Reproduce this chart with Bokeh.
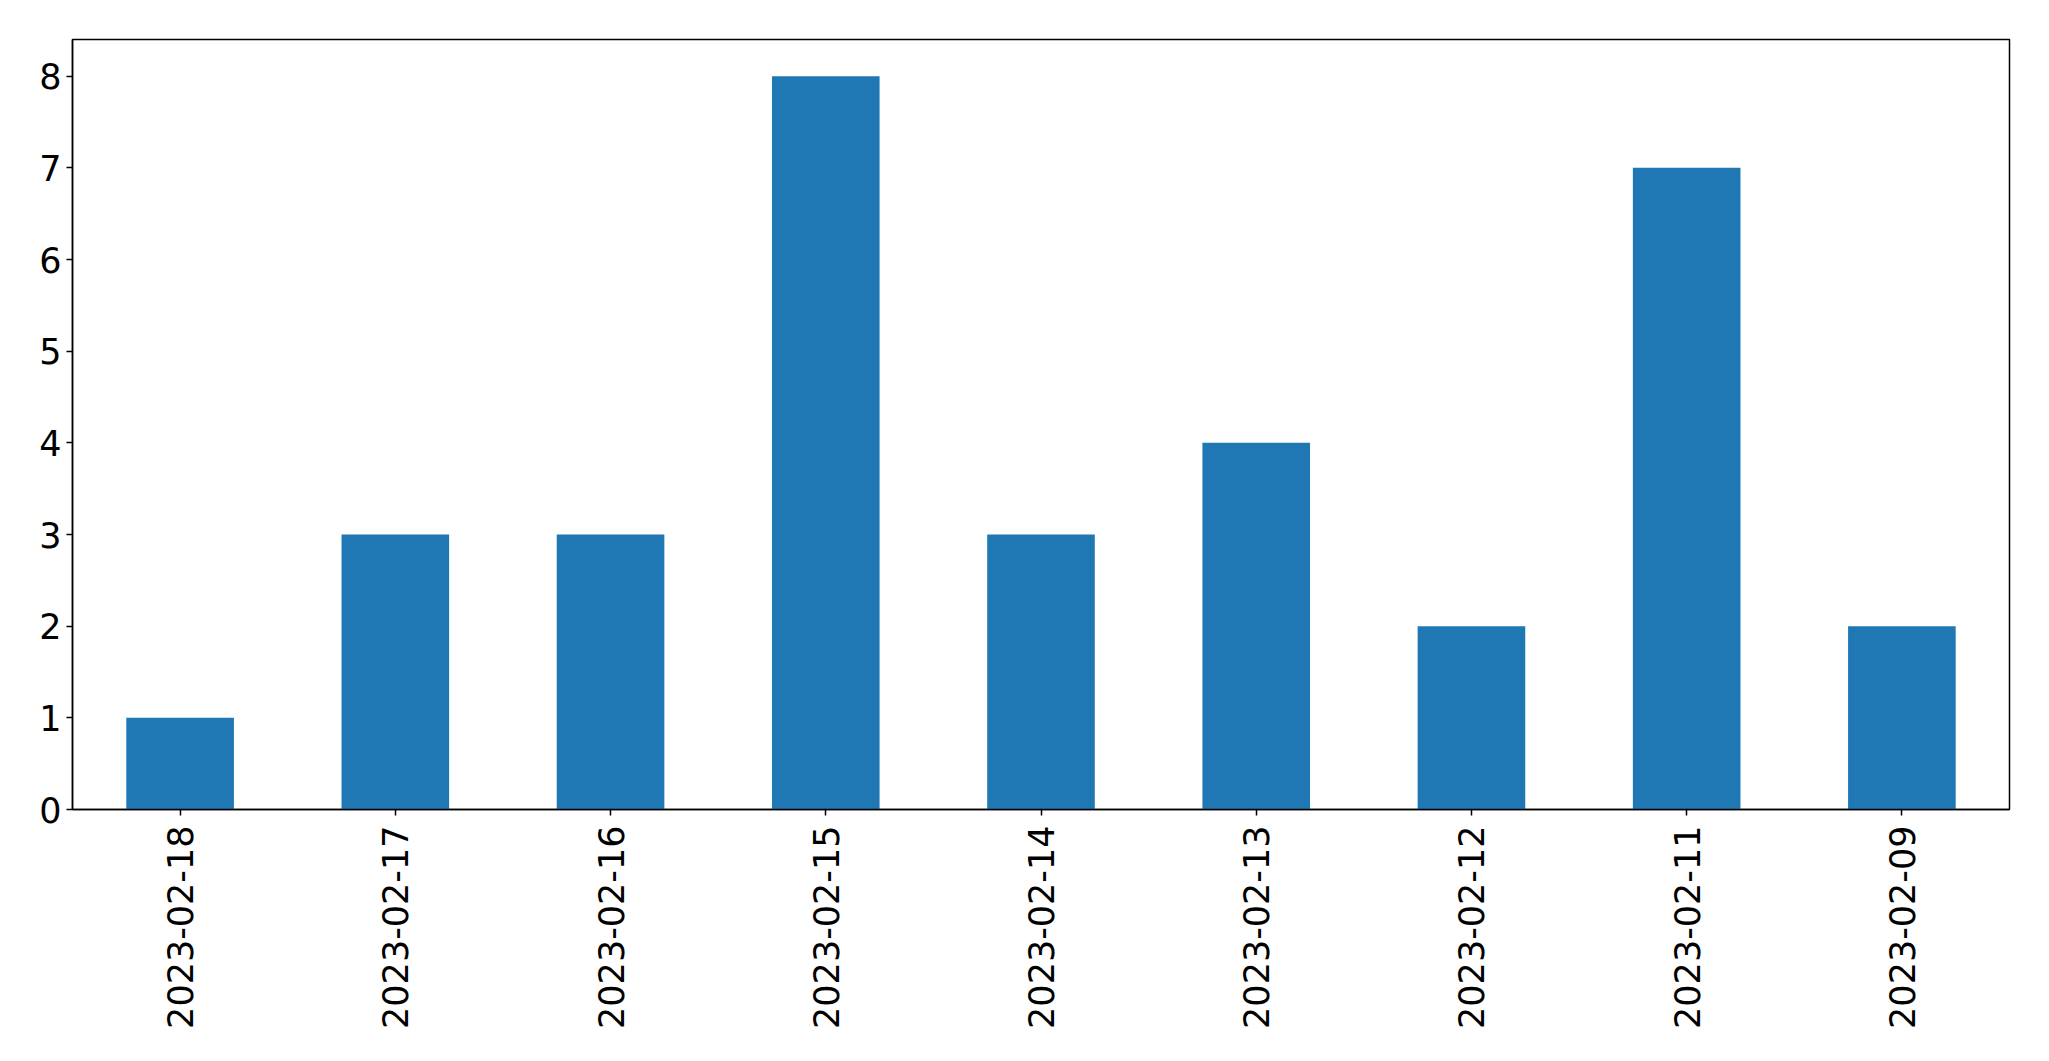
import math
from bokeh.plotting import figure
from bokeh.models import FactorRange, Range1d, FixedTicker, ColumnDataSource
from bokeh.embed import file_html
from bokeh.resources import INLINE

dates = ["2023-02-18", "2023-02-17", "2023-02-16", "2023-02-15", "2023-02-14",
         "2023-02-13", "2023-02-12", "2023-02-11", "2023-02-09"]
counts = [1, 3, 3, 8, 3, 4, 2, 7, 2]
y_ticks = [0, 1, 2, 3, 4, 5, 6, 7, 8]

src = ColumnDataSource(data=dict(x=dates, top=counts))

p = figure(x_range=FactorRange(*dates), y_range=Range1d(0, 8.4),
           frame_width=1937, frame_height=770,
           output_backend="svg", toolbar_location=None,
           min_border_left=72, min_border_top=39, min_border_right=32, min_border_bottom=236)

p.vbar(x="x", top="top", width=0.5, source=src, color="#1f77b4", line_color=None)

p.xgrid.visible = False
p.ygrid.visible = False
p.outline_line_color = "black"
p.outline_line_width = 1.5
p.outline_line_alpha = 1.0
p.background_fill_color = "white"
p.border_fill_color = "white"

p.yaxis.ticker = FixedTicker(ticks=y_ticks)
p.yaxis.minor_tick_line_color = None

for ax in (p.xaxis[0], p.yaxis[0]):
    ax.axis_line_color = "black"
    ax.axis_line_width = 1.5
    ax.major_tick_line_color = "black"
    ax.major_tick_line_width = 1.5
    ax.major_tick_in = 0
    ax.major_tick_out = 6
    ax.major_label_text_font = "DejaVu Sans"
    ax.major_label_text_font_size = "35px"
    ax.major_label_text_color = "black"

p.yaxis.major_label_standoff = 5
p.xaxis.major_label_standoff = 10
p.xaxis.major_label_orientation = math.pi / 2
p.x_range.range_padding = 0

open("out.html", "w").write(file_html(p, INLINE))
